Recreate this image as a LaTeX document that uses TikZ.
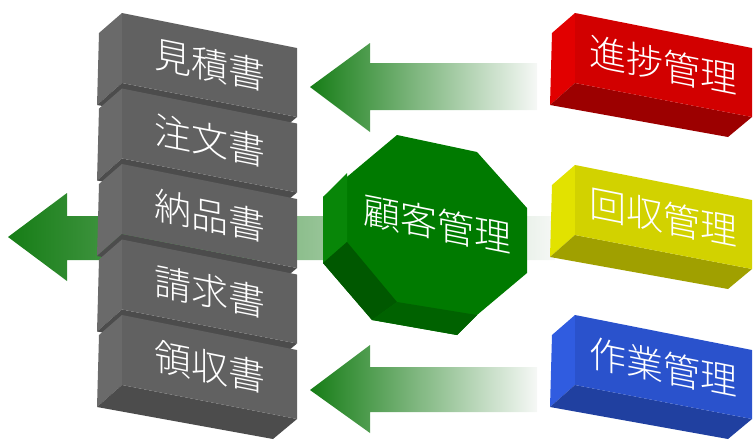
\documentclass[tikz,border=0pt]{standalone}
\usepackage{fontspec}
\newfontfamily\cjk{Noto Sans CJK JP}[UprightFont={* Light}]
\definecolor{arrG}{RGB}{22,125,22}
\definecolor{arrM}{RGB}{146,176,146}
\definecolor{arrW}{RGB}{246,248,246}
\definecolor{grF}{RGB}{97,97,97}
\definecolor{grS}{RGB}{106,106,106}
\definecolor{grB}{RGB}{76,76,76}
\definecolor{rdF}{RGB}{210,0,0}
\definecolor{rdS}{RGB}{226,0,0}
\definecolor{rdB}{RGB}{156,0,0}
\definecolor{ylF}{RGB}{210,210,0}
\definecolor{ylS}{RGB}{226,226,0}
\definecolor{ylB}{RGB}{160,160,0}
\definecolor{blF}{RGB}{42,82,204}
\definecolor{blS}{RGB}{48,92,224}
\definecolor{blB}{RGB}{32,64,160}
\definecolor{ocF}{RGB}{0,122,0}
\definecolor{ocS}{RGB}{8,134,8}
\definecolor{ocD}{RGB}{0,88,0}
\definecolor{ocB}{RGB}{0,98,0}
\tikzset{
  boxtext/.style={text=white, inner sep=0pt, font=\cjk\fontsize{37}{37}\selectfont, yslant=-0.2},
  arrowshade/.style={left color=arrG, middle color=arrM, right color=arrW}
}
% #1 name, #2 x0, #3 y0, #4 width, #5 front, #6 side, #7 bottom, #8 text
\newcommand\prismbox[8]{%
  \begin{scope}[shift={(#2,#3)}]
    \fill[#6] (-23,20) -- (0,0) -- (0,70) -- (-25,92) -- cycle;
    \fill[#7] (0,70) -- (#4,104) -- ({#4-24},124) -- (-25,92) -- cycle;
    \fill[#5] (0,0) -- (#4,35) -- (#4,104) -- (0,70) -- cycle;
    \node[boxtext] (#1) at ({#4/2},52) {#8};
  \end{scope}}
\begin{document}
\begin{tikzpicture}[x=1pt,y=-1pt]
\useasboundingbox (0,0) rectangle (753,440);
% middle arrow (behind)
\shade[arrowshade] (8,237) -- (67,193) -- (67,216) -- (555,216) -- (555,260) -- (67,260) -- (67,281) -- cycle;
% grey stack
\prismbox{g1}{122}{13}{175}{grF}{grS}{grB}{見積書}
\prismbox{g2}{122}{88.5}{175}{grF}{grS}{grB}{注文書}
\prismbox{g3}{122}{164}{175}{grF}{grS}{grB}{納品書}
\prismbox{g4}{122}{239.5}{175}{grF}{grS}{grB}{請求書}
\prismbox{g5}{122}{315}{175}{grF}{grS}{grB}{領収書}
% octagon prism
\fill[ocF] (397,135) -- (477,152) -- (527,208) -- (527,273) -- (477,315) -- (457,335) -- (372,320) -- (323,263) -- (323,197) -- cycle;
\fill[ocS] (323,197) -- (347,173) -- (347,242) -- (323,263) -- cycle;
\fill[ocD] (323,263) -- (347,242) -- (397,302) -- (372,320) -- cycle;
\fill[ocB] (372,320) -- (397,302) -- (477,315) -- (457,335) -- cycle;
\node[boxtext] (oct) at (437,224) {顧客管理};
% top and bottom arrows
\shade[arrowshade] (310,87) -- (370,43) -- (370,63) -- (537,63) -- (537,110) -- (370,110) -- (370,132) -- cycle;
\shade[arrowshade] (310,390) -- (370,345) -- (370,367) -- (537,367) -- (537,412) -- (370,412) -- (370,433) -- cycle;
% right boxes
\prismbox{r1}{575}{13}{177}{rdF}{rdS}{rdB}{進捗管理}
\prismbox{r2}{575}{165}{177}{ylF}{ylS}{ylB}{回収管理}
\prismbox{r3}{575}{315}{177}{blF}{blS}{blB}{作業管理}
\end{tikzpicture}
\end{document}
